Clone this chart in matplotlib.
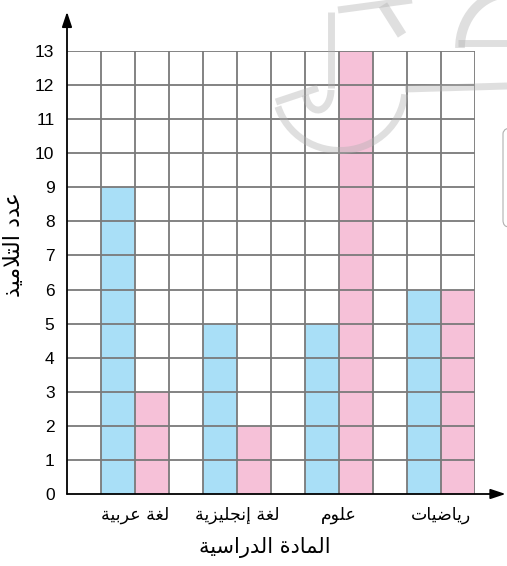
import numpy as np
import matplotlib.pyplot as plt
from matplotlib.patches import Arc, FancyBboxPatch

# data
subjects = ['لغة عربية', 'لغة إنجليزية', 'علوم', 'رياضيات']
blue_vals = [9, 5, 5, 6]
pink_vals = [3, 2, 13, 6]
x_title = 'المادة الدراسية'
y_title = 'عدد التلاميذ'
y_ticks = list(range(0, 14))

# --- tiny arabic shaper (matplotlib has no shaping / rtl) ---
FOUR = {'ب': 0xFE8F, 'ت': 0xFE95, 'ج': 0xFE9D, 'س': 0xFEB1, 'ض': 0xFEBD,
        'ع': 0xFEC9, 'غ': 0xFECD, 'ل': 0xFEDD, 'م': 0xFEE1, 'ن': 0xFEE5,
        'ي': 0xFEF1}
TWO = {'ا': 0xFE8D, 'أ': 0xFE83, 'إ': 0xFE87, 'ة': 0xFE93, 'د': 0xFEA9,
       'ذ': 0xFEAB, 'ر': 0xFEAD, 'ز': 0xFEAF, 'و': 0xFEED, 'LA': 0xFEFB}


def shape(s):
    chars = []
    i = 0
    while i < len(s):
        if s[i] == 'ل' and i + 1 < len(s) and s[i + 1] == 'ا':
            chars.append('LA')
            i += 2
        else:
            chars.append(s[i])
            i += 1
    out = []
    for k, c in enumerate(chars):
        if c not in FOUR and c not in TWO:
            out.append(c)
            continue
        prev = chars[k - 1] if k > 0 else None
        nxt = chars[k + 1] if k + 1 < len(chars) else None
        pj = prev in FOUR
        nj = c in FOUR and (nxt in FOUR or nxt in TWO)
        if c in FOUR:
            b = FOUR[c]
            code = b + (3 if pj and nj else 1 if pj else 2 if nj else 0)
        else:
            b = TWO[c]
            code = b + (1 if pj else 0)
        out.append(chr(code))
    return ''.join(out[::-1])


fig = plt.figure(figsize=(5.07, 5.66), dpi=100)
ax = fig.add_axes([67 / 507, 72 / 566, 408 / 507, 443 / 566])

n = len(subjects)
pos = np.arange(n) * 3
ax.bar(pos + 1.5, blue_vals, width=1, color='#a9dff7', zorder=1)
ax.bar(pos + 2.5, pink_vals, width=1, color='#f6c1d8', zorder=1)

ax.set_xlim(0, 12)
ax.set_ylim(0, 13)
ax.set_xticks(pos + 2)
ax.set_xticklabels([shape(s) for s in subjects], fontsize=12.5)
ax.set_yticks(y_ticks)
ax.set_yticklabels([str(v) for v in y_ticks], fontsize=12.5, family='Liberation Sans')
ax.tick_params(axis='y', length=0, pad=9)
ax.tick_params(axis='x', length=0, pad=9)

# grid of unit cells
for gx in range(1, 13):
    ax.axvline(gx, color='#7a7a7a', lw=1.3, zorder=2)
for gy in y_ticks[1:]:
    ax.axhline(gy, color='#7a7a7a', lw=1.3, zorder=2)
for sp in ax.spines.values():
    sp.set_visible(False)

# axes with arrows
ax.annotate('', xy=(0, 14.15), xytext=(0, 0), annotation_clip=False,
            arrowprops=dict(arrowstyle='-|>,head_length=0.9,head_width=0.3', color='black', lw=1.3, shrinkA=0, shrinkB=0))
ax.annotate('', xy=(12.9, 0), xytext=(0, 0), annotation_clip=False,
            arrowprops=dict(arrowstyle='-|>,head_length=0.9,head_width=0.3', color='black', lw=1.3, shrinkA=0, shrinkB=0))

fig.text(265 / 507, 1 - 548 / 566, shape(x_title), ha='center', va='center', fontsize=15)
fig.text(14 / 507, 1 - 245 / 566, shape(y_title), ha='center', va='center', rotation=90, fontsize=16)

# faint watermark shapes
wm = dict(color='#b0b0b0', alpha=0.4, zorder=5, solid_capstyle='butt')
W, H = 507, 566
fig.add_artist(Arc((340 / W, 1 - 88 / H), 130 / W, 125 / H, theta1=195, theta2=355,
                   transform=fig.transFigure, color='#b0b0b0', alpha=0.4, lw=5, zorder=5))
fig.add_artist(Arc((318 / W, 1 - 90 / H), 26 / W, 40 / H, theta1=200, theta2=360,
                   transform=fig.transFigure, color='#b0b0b0', alpha=0.4, lw=5, zorder=5))
fig.add_artist(plt.Line2D([276 / W, 318 / W], [1 - 102 / H, 1 - 88 / H], lw=5, **wm))
fig.add_artist(plt.Line2D([331 / W, 331 / W], [1 - 88 / H, 1 - 12 / H], lw=5, **wm))
fig.add_artist(plt.Line2D([338 / W, 412 / W], [1 - 10 / H, 1 - 0 / H], lw=5, **wm))
fig.add_artist(plt.Line2D([383 / W, 402 / W], [1 - 5 / H, 1 - 35 / H], lw=7, **wm))
fig.add_artist(Arc((510 / W, 1 - 48 / H), 100 / W, 110 / H, theta1=92, theta2=180,
                   transform=fig.transFigure, color='#b0b0b0', alpha=0.4, lw=7, zorder=5))
fig.add_artist(plt.Line2D([458 / W, 507 / W], [1 - 43 / H, 1 - 43 / H], lw=5, **wm))
fig.add_artist(plt.Line2D([405 / W, 507 / W], [1 - 89 / H, 1 - 86 / H], lw=5, **wm))
fig.add_artist(FancyBboxPatch((503 / W, 1 - 227 / H), 20 / W, 100 / H,
                              boxstyle='round,pad=0,rounding_size=0.012', transform=fig.transFigure,
                              fc='none', ec='#b0b0b0', lw=0.8))

fig.savefig('out.png', dpi=100)
